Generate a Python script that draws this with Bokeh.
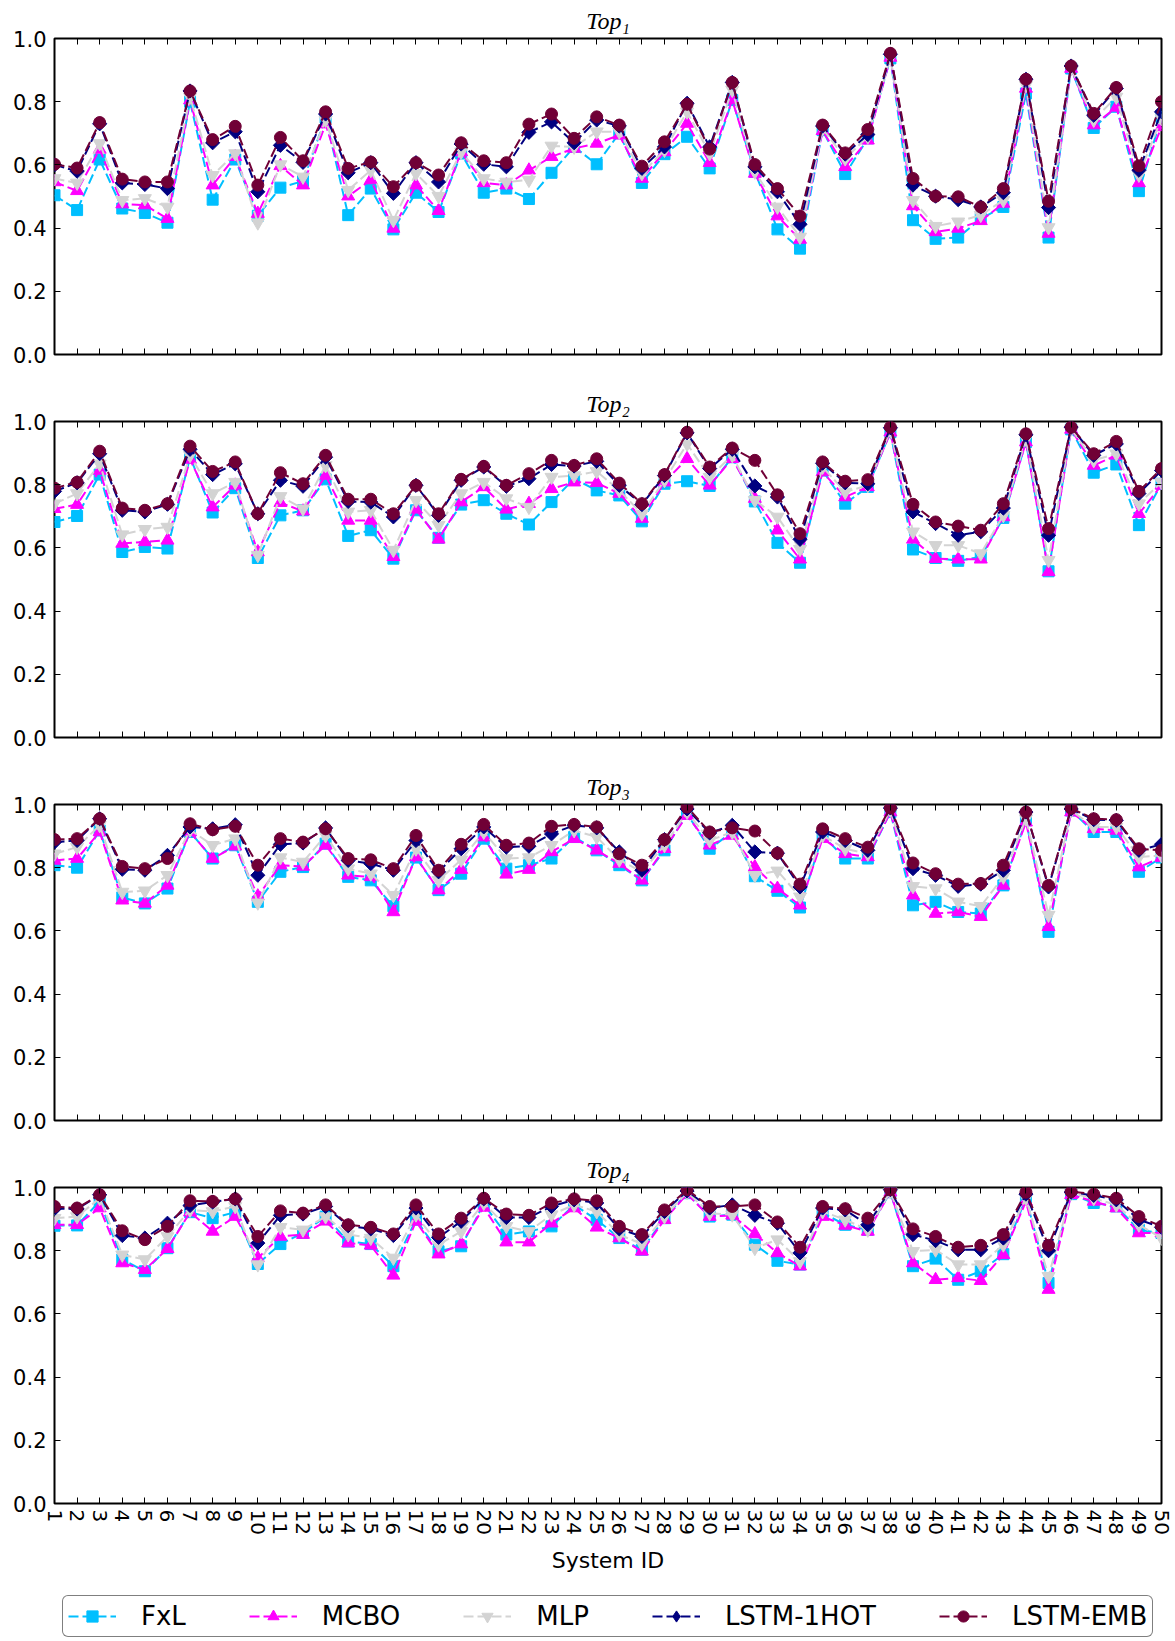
import numpy as np
from bokeh.plotting import figure
from bokeh.models import (Range1d, FixedTicker, LinearAxis, PrintfTickFormatter,
                          CustomJSTickFormatter, Legend, LegendItem)
from bokeh.layouts import column
from bokeh.embed import file_html
from bokeh.resources import INLINE

# ---------------- data ----------------
system_ids = list(range(1, 51))
x_tick_labels = [str(i) for i in system_ids]
y_ticks = [0.0, 0.2, 0.4, 0.6, 0.8, 1.0]
series_names = ["FxL", "MCBO", "MLP", "LSTM-1HOT", "LSTM-EMB"]
panel_titles = ["Top\u2081", "Top\u2082", "Top\u2083", "Top\u2084"]
x_axis_label = "System ID"

top1_fxl = [0.504, 0.457, 0.617, 0.462, 0.448, 0.417, 0.800, 0.490, 0.617, 0.439,
            0.528, 0.549, 0.750, 0.441, 0.525, 0.396, 0.512, 0.451, 0.636, 0.512,
            0.525, 0.492, 0.575, 0.657, 0.602, 0.700, 0.543, 0.634, 0.689, 0.589,
            0.805, 0.578, 0.396, 0.335, 0.710, 0.571, 0.684, 0.937, 0.425, 0.366,
            0.370, 0.430, 0.467, 0.826, 0.370, 0.905, 0.717, 0.784, 0.517, 0.752]
top1_mcbo = [0.546, 0.518, 0.649, 0.476, 0.473, 0.430, 0.805, 0.536, 0.626, 0.446,
             0.597, 0.536, 0.729, 0.501, 0.552, 0.399, 0.536, 0.455, 0.641, 0.543,
             0.536, 0.583, 0.626, 0.652, 0.668, 0.694, 0.557, 0.641, 0.731, 0.607,
             0.805, 0.573, 0.438, 0.364, 0.708, 0.594, 0.678, 0.940, 0.470, 0.388,
             0.399, 0.423, 0.478, 0.842, 0.383, 0.905, 0.726, 0.782, 0.543, 0.720]
top1_mlp = [0.557, 0.543, 0.668, 0.488, 0.494, 0.467, 0.815, 0.567, 0.636, 0.417,
            0.601, 0.562, 0.742, 0.520, 0.583, 0.425, 0.573, 0.501, 0.641, 0.557,
            0.546, 0.552, 0.660, 0.657, 0.705, 0.705, 0.573, 0.647, 0.768, 0.636,
            0.837, 0.578, 0.467, 0.372, 0.715, 0.620, 0.689, 0.940, 0.488, 0.406,
            0.420, 0.441, 0.488, 0.852, 0.402, 0.905, 0.742, 0.815, 0.568, 0.747]
top1_lstm1hot = [0.600, 0.580, 0.730, 0.543, 0.538, 0.525, 0.834, 0.670, 0.705, 0.515,
                 0.662, 0.608, 0.761, 0.575, 0.607, 0.510, 0.607, 0.546, 0.666, 0.602,
                 0.594, 0.703, 0.736, 0.670, 0.742, 0.723, 0.589, 0.657, 0.795, 0.657,
                 0.861, 0.594, 0.515, 0.412, 0.723, 0.634, 0.696, 0.950, 0.536, 0.501,
                 0.490, 0.467, 0.512, 0.871, 0.465, 0.913, 0.757, 0.842, 0.583, 0.768]
top1_lstmemb = [0.602, 0.590, 0.734, 0.555, 0.546, 0.546, 0.834, 0.680, 0.722, 0.536,
                0.687, 0.613, 0.768, 0.589, 0.609, 0.531, 0.607, 0.568, 0.670, 0.613,
                0.607, 0.729, 0.761, 0.684, 0.752, 0.726, 0.596, 0.673, 0.792, 0.650,
                0.861, 0.601, 0.525, 0.438, 0.726, 0.638, 0.712, 0.953, 0.557, 0.501,
                0.499, 0.467, 0.525, 0.871, 0.485, 0.913, 0.763, 0.845, 0.597, 0.800]

top2_fxl = [0.682, 0.701, 0.832, 0.587, 0.603, 0.598, 0.887, 0.712, 0.789, 0.568,
            0.703, 0.719, 0.817, 0.638, 0.656, 0.566, 0.719, 0.632, 0.737, 0.751,
            0.708, 0.674, 0.745, 0.819, 0.782, 0.766, 0.684, 0.803, 0.811, 0.796,
            0.887, 0.747, 0.616, 0.553, 0.845, 0.740, 0.793, 0.966, 0.595, 0.568,
            0.559, 0.572, 0.695, 0.935, 0.526, 0.975, 0.838, 0.864, 0.672, 0.803]
top2_mcbo = [0.724, 0.737, 0.845, 0.614, 0.619, 0.624, 0.880, 0.729, 0.798, 0.587,
             0.743, 0.716, 0.829, 0.687, 0.687, 0.572, 0.722, 0.627, 0.745, 0.793,
             0.722, 0.740, 0.787, 0.808, 0.806, 0.772, 0.693, 0.808, 0.882, 0.798,
             0.882, 0.756, 0.656, 0.564, 0.840, 0.761, 0.793, 0.966, 0.627, 0.566,
             0.564, 0.564, 0.698, 0.935, 0.524, 0.975, 0.861, 0.893, 0.708, 0.798]
top2_mlp = [0.740, 0.772, 0.866, 0.642, 0.659, 0.666, 0.893, 0.772, 0.808, 0.577,
            0.763, 0.724, 0.861, 0.714, 0.719, 0.593, 0.751, 0.672, 0.772, 0.808,
            0.756, 0.729, 0.824, 0.829, 0.842, 0.782, 0.708, 0.814, 0.929, 0.824,
            0.893, 0.751, 0.698, 0.596, 0.856, 0.777, 0.798, 0.972, 0.651, 0.608,
            0.608, 0.582, 0.703, 0.945, 0.561, 0.977, 0.877, 0.898, 0.740, 0.808]
top2_lstm1hot = [0.779, 0.806, 0.898, 0.719, 0.714, 0.738, 0.912, 0.832, 0.866, 0.708,
                 0.814, 0.795, 0.887, 0.747, 0.745, 0.698, 0.798, 0.703, 0.814, 0.856,
                 0.795, 0.819, 0.864, 0.859, 0.874, 0.798, 0.737, 0.829, 0.964, 0.851,
                 0.912, 0.796, 0.761, 0.627, 0.868, 0.806, 0.803, 0.980, 0.714, 0.677,
                 0.640, 0.651, 0.726, 0.958, 0.640, 0.982, 0.893, 0.929, 0.772, 0.845]
top2_lstmemb = [0.789, 0.808, 0.906, 0.726, 0.719, 0.740, 0.922, 0.842, 0.872, 0.708,
                0.838, 0.803, 0.893, 0.754, 0.754, 0.708, 0.798, 0.708, 0.817, 0.858,
                0.798, 0.835, 0.877, 0.861, 0.882, 0.805, 0.740, 0.832, 0.966, 0.856,
                0.916, 0.877, 0.768, 0.645, 0.872, 0.811, 0.816, 0.982, 0.738, 0.682,
                0.669, 0.656, 0.740, 0.961, 0.661, 0.982, 0.898, 0.937, 0.779, 0.851]

top3_fxl = [0.808, 0.800, 0.918, 0.706, 0.687, 0.734, 0.913, 0.829, 0.871, 0.692,
            0.787, 0.802, 0.876, 0.771, 0.760, 0.678, 0.832, 0.729, 0.781, 0.892,
            0.797, 0.808, 0.829, 0.897, 0.855, 0.808, 0.760, 0.855, 0.971, 0.860,
            0.913, 0.773, 0.727, 0.674, 0.902, 0.829, 0.829, 0.976, 0.681, 0.692,
            0.660, 0.655, 0.744, 0.950, 0.597, 0.981, 0.913, 0.913, 0.787, 0.832]
top3_mcbo = [0.823, 0.829, 0.913, 0.697, 0.687, 0.744, 0.913, 0.829, 0.868, 0.710,
             0.808, 0.804, 0.871, 0.776, 0.771, 0.660, 0.834, 0.729, 0.794, 0.897,
             0.779, 0.794, 0.850, 0.892, 0.855, 0.813, 0.760, 0.860, 0.965, 0.871,
             0.902, 0.802, 0.734, 0.681, 0.892, 0.844, 0.834, 0.976, 0.713, 0.655,
             0.660, 0.645, 0.744, 0.944, 0.613, 0.976, 0.923, 0.918, 0.802, 0.832]
top3_mlp = [0.844, 0.865, 0.934, 0.723, 0.727, 0.776, 0.920, 0.871, 0.892, 0.689,
            0.832, 0.818, 0.902, 0.797, 0.781, 0.713, 0.860, 0.760, 0.825, 0.913,
            0.829, 0.832, 0.871, 0.918, 0.897, 0.825, 0.787, 0.871, 0.976, 0.886,
            0.913, 0.776, 0.790, 0.708, 0.902, 0.860, 0.844, 0.983, 0.741, 0.734,
            0.692, 0.678, 0.771, 0.955, 0.650, 0.981, 0.929, 0.929, 0.834, 0.839]
top3_lstm1hot = [0.881, 0.886, 0.955, 0.795, 0.792, 0.839, 0.929, 0.923, 0.936, 0.776,
                 0.874, 0.878, 0.926, 0.823, 0.813, 0.792, 0.886, 0.787, 0.860, 0.929,
                 0.865, 0.868, 0.907, 0.934, 0.926, 0.850, 0.792, 0.889, 0.986, 0.910,
                 0.934, 0.850, 0.846, 0.739, 0.913, 0.886, 0.855, 0.989, 0.797, 0.776,
                 0.741, 0.748, 0.792, 0.976, 0.739, 0.986, 0.952, 0.950, 0.855, 0.874]
top3_lstmemb = [0.889, 0.892, 0.955, 0.804, 0.797, 0.829, 0.939, 0.920, 0.931, 0.808,
                0.892, 0.881, 0.923, 0.829, 0.825, 0.797, 0.902, 0.792, 0.874, 0.937,
                0.871, 0.878, 0.931, 0.937, 0.929, 0.844, 0.808, 0.889, 0.992, 0.913,
                0.926, 0.916, 0.846, 0.748, 0.923, 0.892, 0.865, 0.989, 0.815, 0.781,
                0.748, 0.750, 0.808, 0.976, 0.744, 0.988, 0.955, 0.952, 0.860, 0.855]

top4_fxl = [0.879, 0.880, 0.956, 0.772, 0.735, 0.808, 0.922, 0.903, 0.922, 0.758,
            0.821, 0.856, 0.908, 0.829, 0.821, 0.751, 0.898, 0.798, 0.814, 0.947,
            0.851, 0.861, 0.877, 0.945, 0.898, 0.840, 0.803, 0.903, 0.982, 0.908,
            0.914, 0.819, 0.768, 0.756, 0.919, 0.882, 0.866, 0.985, 0.751, 0.775,
            0.708, 0.735, 0.789, 0.966, 0.698, 0.979, 0.951, 0.940, 0.866, 0.856]
top4_mcbo = [0.882, 0.882, 0.935, 0.761, 0.740, 0.806, 0.922, 0.861, 0.908, 0.777,
             0.845, 0.851, 0.893, 0.824, 0.817, 0.722, 0.893, 0.789, 0.821, 0.937,
             0.827, 0.827, 0.887, 0.935, 0.874, 0.840, 0.798, 0.898, 0.979, 0.908,
             0.912, 0.853, 0.793, 0.751, 0.908, 0.880, 0.861, 0.985, 0.761, 0.708,
             0.714, 0.705, 0.787, 0.956, 0.677, 0.977, 0.956, 0.935, 0.856, 0.856]
top4_mlp = [0.903, 0.908, 0.966, 0.787, 0.772, 0.845, 0.929, 0.924, 0.940, 0.756,
            0.874, 0.866, 0.908, 0.851, 0.840, 0.777, 0.914, 0.819, 0.861, 0.951,
            0.877, 0.861, 0.914, 0.945, 0.924, 0.851, 0.821, 0.908, 0.985, 0.919,
            0.914, 0.808, 0.835, 0.766, 0.924, 0.898, 0.866, 0.987, 0.798, 0.803,
            0.756, 0.756, 0.819, 0.966, 0.719, 0.982, 0.966, 0.945, 0.882, 0.840]
top4_lstm1hot = [0.933, 0.932, 0.977, 0.848, 0.840, 0.887, 0.943, 0.954, 0.964, 0.824,
                 0.912, 0.916, 0.940, 0.879, 0.869, 0.848, 0.935, 0.842, 0.893, 0.964,
                 0.905, 0.905, 0.940, 0.961, 0.951, 0.869, 0.845, 0.924, 0.989, 0.935,
                 0.945, 0.912, 0.887, 0.793, 0.935, 0.929, 0.882, 0.993, 0.851, 0.832,
                 0.803, 0.803, 0.840, 0.979, 0.800, 0.985, 0.975, 0.961, 0.898, 0.874]
top4_lstmemb = [0.940, 0.935, 0.977, 0.863, 0.835, 0.877, 0.958, 0.956, 0.964, 0.845,
                0.926, 0.919, 0.945, 0.882, 0.874, 0.853, 0.945, 0.853, 0.903, 0.966,
                0.916, 0.912, 0.951, 0.964, 0.958, 0.877, 0.851, 0.929, 0.993, 0.940,
                0.940, 0.945, 0.891, 0.811, 0.940, 0.933, 0.903, 0.993, 0.869, 0.845,
                0.811, 0.817, 0.851, 0.985, 0.817, 0.987, 0.979, 0.966, 0.908, 0.877]

panels_data = [
    [top1_fxl, top1_mcbo, top1_mlp, top1_lstm1hot, top1_lstmemb],
    [top2_fxl, top2_mcbo, top2_mlp, top2_lstm1hot, top2_lstmemb],
    [top3_fxl, top3_mcbo, top3_mlp, top3_lstm1hot, top3_lstmemb],
    [top4_fxl, top4_mcbo, top4_mlp, top4_lstm1hot, top4_lstmemb],
]

# ---------------- styles ----------------
STYLES = [
    dict(color="#00BFFF", marker="square", size=11, angle=0.0, legend_marker="square"),
    dict(color="#FF00FF", marker="triangle", size=13, angle=0.0, legend_marker="triangle"),
    dict(color="#D3D3D3", marker="inverted_triangle", size=13, angle=0.0,
         legend_marker="inverted_triangle"),
    dict(color="#000080", marker="square", size=10, angle=np.pi / 4, legend_marker="diamond"),
    dict(color="#700036", marker="circle", size=12, angle=0.0, legend_marker="circle"),
]
LINE_DASH = "10 4"
LINE_W = 2
W = 1175
FONT = "DejaVu Sans"
BL, BR = 54, 14


def style_axis(ax, ticks, show_labels, standoff=8, size="20px"):
    ax.ticker = FixedTicker(ticks=ticks)
    ax.major_tick_in = 6
    ax.major_tick_out = 0
    ax.minor_tick_in = 0
    ax.minor_tick_out = 0
    ax.axis_line_color = None
    ax.major_tick_line_color = "black"
    ax.major_tick_line_width = 1
    if show_labels:
        ax.major_label_text_font = FONT
        ax.major_label_text_font_size = size
        ax.major_label_text_color = "black"
        ax.major_label_standoff = standoff
    else:
        ax.formatter = CustomJSTickFormatter(code="return ''")
        ax.major_label_text_font_size = "0px"
        ax.major_label_standoff = 0


def add_series(p, values, legend_strip=False):
    rs = []
    for vals, st in zip(values, STYLES):
        lr = p.line(system_ids, vals, line_color=st["color"], line_width=LINE_W,
                    line_dash=LINE_DASH)
        marker = st["legend_marker"] if legend_strip else st["marker"]
        angle = 0.0 if legend_strip else st["angle"]
        sr = p.scatter(system_ids, vals, marker=marker, size=st["size"],
                       angle=angle, fill_color=st["color"], line_color=st["color"],
                       line_width=1)
        rs.append((lr, sr))
    return rs


def make_panel(title, values, height, border_bottom, last):
    p = figure(width=W, height=height, x_range=Range1d(1, 50), y_range=Range1d(0, 1),
               output_backend="svg", toolbar_location=None,
               min_border_left=BL, min_border_right=BR, min_border_top=38,
               min_border_bottom=border_bottom)
    p.grid.visible = False
    p.outline_line_color = "black"
    p.outline_line_width = 2
    p.title.text = title
    p.title.text_font = "Liberation Serif"
    p.title.text_font_style = "italic"
    p.title.text_font_size = "24px"
    p.title.text_color = "black"
    p.title.align = "center"
    p.title.standoff = 10

    xa = p.xaxis[0]
    style_axis(xa, system_ids, last, standoff=6)
    if last:
        xa.major_label_overrides = {i: s for i, s in zip(system_ids, x_tick_labels)}
        xa.major_label_orientation = "vertical"
        xa.axis_label = x_axis_label
        xa.axis_label_text_font = FONT
        xa.axis_label_text_font_size = "22px"
        xa.axis_label_text_font_style = "normal"
        xa.axis_label_text_color = "black"
        xa.axis_label_standoff = 10
    ya = p.yaxis[0]
    style_axis(ya, y_ticks, True, standoff=8, size="21px")
    ya.formatter = PrintfTickFormatter(format="%.1f")
    top_ax = LinearAxis()
    style_axis(top_ax, system_ids, False)
    p.add_layout(top_ax, "above")
    right_ax = LinearAxis()
    style_axis(right_ax, y_ticks, False)
    p.add_layout(right_ax, "right")

    add_series(p, values)
    return p


figs = []
heights = [383, 383, 383, 427]
bottoms = [29, 29, 29, 73]
for k in range(4):
    figs.append(make_panel(panel_titles[k], panels_data[k], heights[k], bottoms[k], k == 3))

# legend strip (series re-drawn outside its visible y window, only the legend shows)
lg = figure(width=W, height=65, x_range=Range1d(1, 50), y_range=Range1d(10, 11),
            x_axis_type=None, y_axis_type=None, output_backend="svg", toolbar_location=None,
            min_border_left=BL, min_border_right=BR, min_border_top=0, min_border_bottom=0)
lg.outline_line_color = None
rs = add_series(lg, panels_data[3], legend_strip=True)
items = [LegendItem(label=name, renderers=[lr, sr]) for name, (lr, sr) in zip(series_names, rs)]
legend = Legend(items=items, orientation="horizontal", location=(8, 4),
                label_text_font=FONT, label_text_font_size="26px", label_text_color="black",
                glyph_width=48, glyph_height=28, label_height=26, label_standoff=25,
                spacing=63, padding=5, margin=0,
                border_line_color="black", border_line_width=1.5)
if "border_radius" in Legend.properties():
    legend.border_radius = 6
lg.add_layout(legend)
figs.append(lg)

layout = column(*figs, spacing=0)
open("out.html", "w").write(file_html(layout, INLINE))
